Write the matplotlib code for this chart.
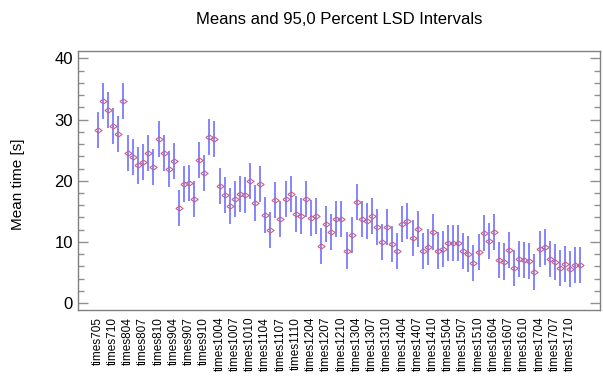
import numpy as np
import matplotlib
matplotlib.use("Agg")
import matplotlib.pyplot as plt
from matplotlib.ticker import MultipleLocator

plt.rcParams['font.family'] = ['Liberation Sans', 'DejaVu Sans']

# group names (only every third one is labelled on the axis)
categories = [
    "times705", "times706", "times708", "times710",
    "times802", "times803", "times804", "times805", "times806", "times807", "times808", "times809", "times810",
    "times902", "times903", "times904", "times905", "times906", "times907", "times908", "times909", "times910",
    "times1002", "times1003", "times1004", "times1005", "times1006", "times1007", "times1008", "times1009", "times1010",
    "times1102", "times1103", "times1104", "times1105", "times1106", "times1107", "times1108", "times1109", "times1110",
    "times1202", "times1203", "times1204", "times1205", "times1206", "times1207", "times1208", "times1209", "times1210",
    "times1302", "times1303", "times1304", "times1305", "times1306", "times1307", "times1308", "times1309", "times1310",
    "times1402", "times1403", "times1404", "times1405", "times1406", "times1407", "times1408", "times1409", "times1410",
    "times1502", "times1503", "times1504", "times1505", "times1506", "times1507", "times1508", "times1509", "times1510",
    "times1602", "times1603", "times1604", "times1605", "times1606", "times1607", "times1608", "times1609", "times1610",
    "times1702", "times1703", "times1704", "times1705", "times1706", "times1707", "times1708", "times1709", "times1710",
    "times1711", "times1712",
]

# group means
means = [
    28.3, 33.0, 31.5, 29.0, 27.6, 33.0, 24.6, 23.9, 22.5, 23.1,
    24.5, 22.2, 26.8, 24.5, 22.0, 23.3, 15.5, 19.4, 19.7, 17.0,
    23.4, 21.3, 27.2, 26.9, 19.2, 17.7, 15.9, 17.0, 17.9, 17.7,
    19.9, 16.4, 19.5, 14.4, 12.0, 16.8, 13.8, 17.0, 17.9, 14.5,
    14.3, 17.0, 13.9, 14.2, 9.3, 13.0, 11.6, 13.8, 13.7, 8.6,
    11.2, 16.6, 13.8, 13.4, 14.3, 12.4, 10.0, 12.5, 9.7, 8.5,
    12.9, 13.4, 10.7, 12.1, 8.5, 9.2, 11.6, 8.6, 8.8, 9.8,
    9.9, 9.8, 8.5, 8.0, 6.5, 8.3, 11.4, 10.2, 11.7, 7.1,
    6.8, 8.7, 5.8, 7.2, 7.1, 6.9, 5.1, 8.9, 9.2, 7.2,
    6.7, 5.8, 6.4, 5.6, 6.2, 6.2,
]

# half width of the 95% LSD interval (same for all groups)
lsd_half = 2.95

x = np.arange(len(means))
m = np.array(means)

fig = plt.figure(figsize=(6.03, 3.76), dpi=100)
ax = fig.add_axes([0.129, 0.176, 0.866, 0.688])

ax.vlines(x, m - lsd_half, m + lsd_half, color="#3c3cff", lw=1.1, alpha=0.8)
diamond = [(-1, 0), (0, 0.7), (1, 0), (0, -0.7), (-1, 0)]
ax.plot(x, m, linestyle="none", marker=diamond, ms=5.2, mfc="none",
        mec="#c8608a", mew=0.8)

ax.set_xlim(-3.9, len(means) - 1 + 3.9)
ax.set_ylim(-1.1, 41.2)
ax.set_xticks(x[::3])
ax.set_xticklabels(categories[::3], rotation=90, fontsize=8.5)
ax.tick_params(axis="x", length=0, pad=5)

ax.yaxis.set_major_locator(MultipleLocator(10))
ax.yaxis.set_minor_locator(MultipleLocator(2))
ax.tick_params(axis="y", which="both", direction="in", left=True, right=True,
               color="#909090", labelsize=12)
ax.tick_params(axis="y", which="major", length=7, width=1)
ax.tick_params(axis="y", which="minor", length=4.5, width=1)

for s in ax.spines.values():
    s.set_color("#808080")
    s.set_linewidth(1)

fig.text(339 / 603, 1 - 19 / 376, "Means and 95,0 Percent LSD Intervals",
         ha="center", va="center", fontsize=12)
fig.text(18 / 603, 1 - 184 / 376, "Mean time [s]", rotation=90,
         ha="center", va="center", fontsize=11)

fig.savefig("out.png", dpi=100)
